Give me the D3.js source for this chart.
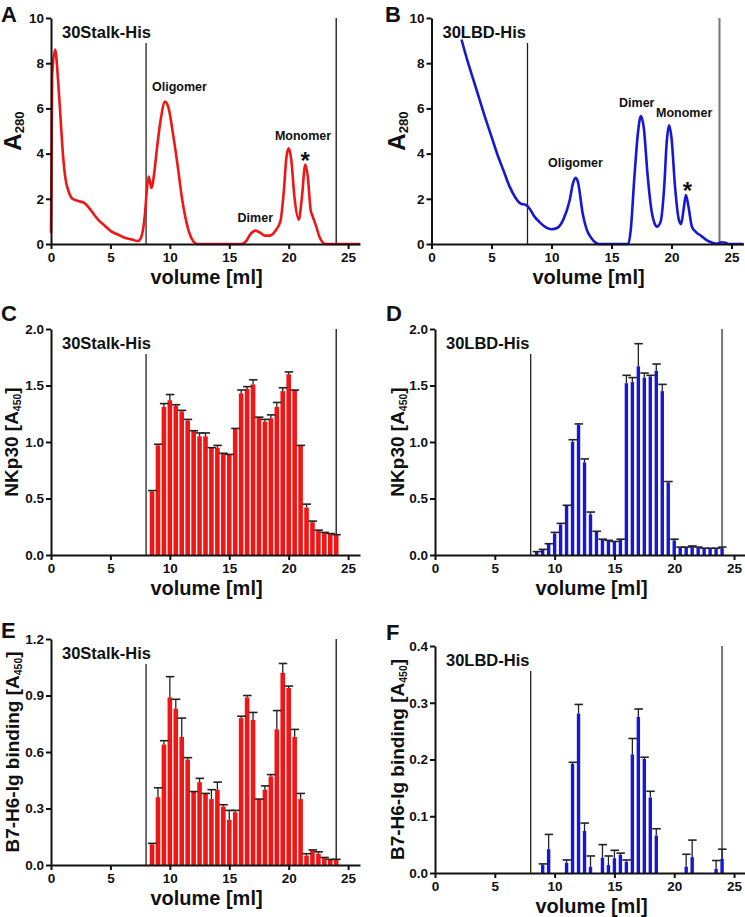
<!DOCTYPE html>
<html>
<head>
<meta charset="utf-8">
<script src="https://cdn.jsdelivr.net/npm/d3@7"></script>
<style>
  body { margin: 0; background: #fff; }
  svg { display: block; font-family: Arial, "Liberation Sans", Helvetica, sans-serif; font-weight: bold; }
</style>
</head>
<body>
<svg width="745" height="917"></svg>
<script>
// SEC traces, A280
var stalkVol = [0.0, 0.1, 0.35, 0.6, 0.8, 1.0, 1.2, 1.5, 1.8, 2.3, 2.8, 3.2, 3.6, 4.0, 4.5, 5.1, 5.7, 6.2, 6.8, 7.3, 7.55, 7.9, 8.05, 8.22, 8.45, 8.7, 8.9, 9.2, 9.6, 9.9, 10.3, 10.7, 11.0, 11.3, 11.6, 12.0, 12.3, 16.0, 16.4, 16.8, 17.2, 17.6, 18.0, 18.4, 18.9, 19.3, 19.6, 19.8, 20.0, 20.2, 20.5, 20.85, 21.1, 21.4, 21.6, 21.85, 22.0, 22.3, 22.6, 22.9, 23.1, 26.0];
var stalkAbs = [0.5, 7.5, 8.6, 7.2, 5.6, 4.0, 2.95, 2.3, 2.0, 1.9, 1.82, 1.6, 1.32, 1.06, 0.82, 0.55, 0.4, 0.28, 0.2, 0.13, 0.25, 1.3, 2.3, 2.98, 2.48, 3.2, 4.16, 5.4, 6.3, 6.0, 4.75, 3.3, 2.1, 1.2, 0.55, 0.1, 0.0, 0.0, 0.12, 0.45, 0.59, 0.5, 0.37, 0.37, 0.6, 1.0, 2.4, 3.8, 4.23, 3.8, 2.0, 1.08, 2.0, 3.52, 3.0, 1.5, 1.25, 0.8, 0.3, 0.05, 0.0, 0.0];

var lbdVol = [2.5, 3.0, 3.5, 4.0, 4.5, 5.0, 5.5, 6.0, 6.5, 7.0, 7.4, 7.9, 8.2, 8.6, 9.0, 9.5, 10.0, 10.5, 11.0, 11.5, 11.8, 12.0, 12.2, 12.6, 13.0, 13.3, 13.7, 14.0, 16.4, 16.6, 16.9, 17.2, 17.45, 17.7, 18.0, 18.3, 18.6, 18.8, 19.1, 19.4, 19.6, 19.8, 20.0, 20.3, 20.6, 20.8, 21.0, 21.2, 21.4, 21.7, 22.0, 22.5, 23.0, 23.4, 23.8, 24.2, 24.5, 24.8, 26.0];
var lbdAbs = [9.05, 8.1, 7.25, 6.4, 5.55, 4.75, 3.95, 3.25, 2.55, 2.05, 1.8, 1.72, 1.55, 1.2, 0.97, 0.75, 0.65, 0.72, 1.1, 1.9, 2.7, 2.93, 2.75, 1.35, 0.55, 0.28, 0.05, 0.0, 0.0, 0.6, 2.9, 4.9, 5.66, 5.1, 3.1, 1.6, 0.9, 0.77, 1.0, 2.6, 4.5, 5.25, 4.7, 2.5, 1.1, 0.88, 1.5, 2.17, 1.7, 0.77, 0.55, 0.35, 0.15, 0.06, 0.02, 0.08, 0.05, 0.0, 0.0];

// ELISA of the collected fractions
var fractions = [8.5, 9.0, 9.5, 10.0, 10.5, 11.0, 11.5, 12.0, 12.5, 13.0, 13.5, 14.0, 14.5, 15.0, 15.5, 16.0, 16.5, 17.0, 17.5, 18.0, 18.5, 19.0, 19.5, 20.0, 20.5, 21.0, 21.5, 22.0, 22.5, 23.0, 23.5, 24.0];

var stalkNkp30 = [0.56, 0.97, 1.31, 1.37, 1.32, 1.27, 1.19, 1.10, 1.05, 1.05, 0.95, 0.95, 0.90, 0.89, 1.12, 1.43, 1.47, 1.51, 1.22, 1.18, 1.21, 1.31, 1.45, 1.60, 1.46, 0.97, 0.42, 0.29, 0.22, 0.20, 0.19, 0.18];
var stalkNkp30Err = [0.57, 0.98, 1.34, 1.42, 1.33, 1.28, 1.20, 1.10, 1.08, 1.08, 0.95, 0.97, 0.90, 0.89, 1.12, 1.46, 1.49, 1.55, 1.22, 1.20, 1.24, 1.35, 1.48, 1.62, 1.46, 0.97, 0.45, 0.30, 0.22, 0.20, 0.19, 0.18];

var lbdNkp30 = [0.03, 0.05, 0.10, 0.19, 0.27, 0.44, 1.00, 1.15, 0.82, 0.36, 0.21, 0.14, 0.13, 0.12, 0.14, 1.52, 1.53, 1.67, 1.57, 1.58, 1.63, 1.45, 0.64, 0.13, 0.07, 0.07, 0.08, 0.07, 0.06, 0.06, 0.06, 0.06];
var lbdNkp30Err = [0.03, 0.05, 0.10, 0.20, 0.28, 0.44, 1.02, 1.16, 0.85, 0.38, 0.21, 0.14, 0.13, 0.12, 0.14, 1.59, 1.57, 1.87, 1.61, 1.59, 1.69, 1.51, 0.65, 0.14, 0.07, 0.07, 0.08, 0.07, 0.06, 0.06, 0.06, 0.07];

var stalkB7h6 = [0.11, 0.36, 0.64, 0.89, 0.83, 0.68, 0.56, 0.39, 0.44, 0.38, 0.35, 0.40, 0.31, 0.24, 0.28, 0.78, 0.89, 0.77, 0.35, 0.40, 0.47, 0.72, 1.02, 0.94, 0.68, 0.35, 0.05, 0.08, 0.06, 0.04, 0.03, 0.03];
var stalkB7h6Err = [0.115, 0.41, 0.66, 1.00, 0.88, 0.78, 0.57, 0.39, 0.46, 0.38, 0.40, 0.44, 0.32, 0.29, 0.29, 0.79, 0.90, 0.81, 0.35, 0.42, 0.48, 0.82, 1.07, 0.95, 0.72, 0.38, 0.06, 0.08, 0.07, 0.04, 0.03, 0.03];

var lbdB7h6 = [null, 0.014, 0.042, null, null, 0.018, 0.192, 0.281, 0.074, 0.011, null, 0.027, 0.014, 0.026, 0.032, 0.020, 0.209, 0.275, 0.201, 0.133, 0.066, null, null, null, null, 0.011, 0.028, null, null, null, 0.007, 0.025];
var lbdB7h6Err = [null, 0.016, 0.068, null, null, 0.023, 0.195, 0.297, 0.088, 0.030, null, 0.050, 0.030, 0.040, 0.035, 0.023, 0.237, 0.289, 0.204, 0.144, 0.078, null, null, null, null, 0.033, 0.058, null, null, null, 0.022, 0.042];

var xTicks = [0, 5, 10, 15, 20, 25];
var a280Ticks = [0, 2, 4, 6, 8, 10];
var nkp30Ticks = [0, 0.5, 1.0, 1.5, 2.0];
var stalkB7h6Ticks = [0, 0.3, 0.6, 0.9, 1.2];
var lbdB7h6Ticks = [0, 0.1, 0.2, 0.3, 0.4];
var cutoffs = [8, 24];

var svg = d3.select('svg');
var red = '#f01616';
var blue = '#1717d4';

function panel(o) {
  var x = d3.scaleLinear().domain([0, 26]).range([o.left, o.right]);
  var y = d3.scaleLinear().domain([0, o.ymax]).range([o.bottom, o.top]);
  var g = svg.append('g');

  // fraction window lines
  g.append('line')
    .attr('x1', x(cutoffs[0])).attr('x2', x(cutoffs[0]))
    .attr('y1', o.top + 25).attr('y2', o.bottom)
    .attr('stroke', '#222').attr('stroke-width', 1.3);
  g.append('line')
    .attr('x1', x(cutoffs[1])).attr('x2', x(cutoffs[1]))
    .attr('y1', o.top).attr('y2', o.bottom)
    .attr('stroke', o.color == blue ? '#777' : '#333').attr('stroke-width', o.color == blue ? 2 : 1.5);

  if (o.vol) {
    var pts = o.vol.map(function(v, i) { return [v, o.abs[i]]; });
    var line = d3.line()
      .x(function(d) { return x(d[0]); })
      .y(function(d) { return y(d[1]); })
      .curve(d3.curveMonotoneX);
    g.append('path').datum(pts)
      .attr('d', line)
      .attr('fill', 'none')
      .attr('stroke', o.color)
      .attr('stroke-width', 2.6)
      .attr('stroke-linejoin', 'round');
  }

  if (o.bars) {
    var bw = o.barWidth;
    var rows = fractions.map(function(f, i) { return { f: f, v: o.bars[i], e: o.err[i] }; })
      .filter(function(d) { return d.v != null; });
    g.selectAll('rect.bar').data(rows).enter().append('rect')
      .attr('x', function(d) { return x(d.f) - bw / 2; })
      .attr('y', function(d) { return y(d.v); })
      .attr('width', bw)
      .attr('height', function(d) { return y(0) - y(d.v); })
      .attr('fill', o.color);
    // upper error bars only
    g.selectAll('line.whisk').data(rows).enter().append('line')
      .attr('x1', function(d) { return x(d.f); })
      .attr('x2', function(d) { return x(d.f); })
      .attr('y1', function(d) { return y(d.v); })
      .attr('y2', function(d) { return y(d.e); })
      .attr('stroke', '#222').attr('stroke-width', 1.3);
    g.selectAll('line.cap').data(rows).enter().append('line')
      .attr('x1', function(d) { return x(d.f) - 4; })
      .attr('x2', function(d) { return x(d.f) + 4.5; })
      .attr('y1', function(d) { return y(d.e); })
      .attr('y2', function(d) { return y(d.e); })
      .attr('stroke', '#222').attr('stroke-width', 1.6);
  }

  // axes
  var xa = g.append('g').attr('transform', 'translate(0,' + o.bottom + ')')
    .call(d3.axisBottom(x).tickValues(xTicks).tickSize(5).tickPadding(3).tickSizeOuter(0));
  var ya = g.append('g').attr('transform', 'translate(' + o.left + ',0)')
    .call(d3.axisLeft(y).tickValues(o.yTicks).tickFormat(o.fmt).tickSize(5).tickPadding(2).tickSizeOuter(0));
  [xa, ya].forEach(function(a) {
    a.attr('font-family', null).attr('font-size', null);
    a.selectAll('path, line').attr('stroke', '#111').attr('stroke-width', 2);
    a.selectAll('text').attr('fill', '#111').style('font-size', '13.5px');
  });

  // x title
  g.append('text')
    .attr('x', (o.left + x(26)) / 2 + 1).attr('y', o.bottom + 40)
    .attr('text-anchor', 'middle')
    .style('font-size', '20px').attr('fill', '#111')
    .text('volume [ml]');

  // y title with subscript
  var yt = g.append('text')
    .attr('transform', 'translate(' + (o.left - o.ytOff) + ',' + ((o.top + o.bottom) / 2) + ') rotate(-90)')
    .attr('text-anchor', 'middle')
    .style('font-size', o.ytSize + 'px').attr('fill', '#111');
  yt.append('tspan').text(o.ytPre);
  yt.append('tspan').attr('dy', 3).style('font-size', (o.ytSize * 0.55) + 'px').text(o.ytSub);
  yt.append('tspan').attr('dy', -3).text(o.ytPost);

  // panel letter
  g.append('text')
    .attr('x', o.letterX).attr('y', o.letterY)
    .style('font-size', '22px').attr('fill', '#111')
    .text(o.letter);

  // construct name
  g.append('text')
    .attr('x', o.left + 11).attr('y', o.top + 20)
    .style('font-size', '16.5px').attr('fill', '#111')
    .text(o.name);

  (o.notes || []).forEach(function(n) {
    var t = g.append('text')
      .attr('x', x(n.x)).attr('y', y(n.y))
      .attr('fill', '#111')
      .text(n.t);
    if (n.t == '*') {
      t.attr('text-anchor', 'middle').attr('dy', '0.62em').style('font-size', '24px');
    } else {
      t.style('font-size', '12.5px');
    }
  });
}

var fmt1 = d3.format('.1f');

panel({ letter: 'A', letterX: 1, letterY: 22, name: '30Stalk-His', color: red,
  left: 51, right: 360, top: 18, bottom: 244, ymax: 10, yTicks: a280Ticks, fmt: d3.format('d'),
  ytPre: 'A', ytSub: '280', ytPost: '', ytSize: 24, ytOff: 30,
  vol: stalkVol, abs: stalkAbs,
  notes: [{ x: 8.5, y: 6.77, t: 'Oligomer' }, { x: 15.7, y: 0.99, t: 'Dimer' },
          { x: 18.84, y: 4.6, t: 'Monomer' }, { x: 21.39, y: 3.98, t: '*' }] });

panel({ letter: 'B', letterX: 385, letterY: 22, name: '30LBD-His', color: blue,
  left: 431.5, right: 743.5, top: 18, bottom: 244, ymax: 10, yTicks: a280Ticks, fmt: d3.format('d'),
  ytPre: 'A', ytSub: '280', ytPost: '', ytSize: 24, ytOff: 27,
  vol: lbdVol, abs: lbdAbs,
  notes: [{ x: 9.71, y: 3.42, t: 'Oligomer' }, { x: 15.63, y: 6.05, t: 'Dimer' },
          { x: 18.71, y: 5.6, t: 'Monomer' }, { x: 21.33, y: 2.65, t: '*' }] });

panel({ letter: 'C', letterX: 1, letterY: 321, name: '30Stalk-His', color: red,
  left: 51, right: 360, top: 329, bottom: 555, ymax: 2, yTicks: nkp30Ticks, fmt: fmt1,
  ytPre: 'NKp30 [A', ytSub: '450', ytPost: ']', ytSize: 19, ytOff: 33,
  bars: stalkNkp30, err: stalkNkp30Err, barWidth: 4.6 });

panel({ letter: 'D', letterX: 386, letterY: 321, name: '30LBD-His', color: blue,
  left: 435, right: 746, top: 329, bottom: 555, ymax: 2, yTicks: nkp30Ticks, fmt: fmt1,
  ytPre: 'NKp30 [A', ytSub: '450', ytPost: ']', ytSize: 19, ytOff: 31,
  bars: lbdNkp30, err: lbdNkp30Err, barWidth: 3.4 });

panel({ letter: 'E', letterX: 1, letterY: 638, name: '30Stalk-His', color: red,
  left: 51, right: 360, top: 639, bottom: 865, ymax: 1.2, yTicks: stalkB7h6Ticks, fmt: fmt1,
  ytPre: 'B7-H6-Ig binding [A', ytSub: '450', ytPost: ']', ytSize: 19, ytOff: 32,
  bars: stalkB7h6, err: stalkB7h6Err, barWidth: 4.6 });

panel({ letter: 'F', letterX: 386, letterY: 640, name: '30LBD-His', color: blue,
  left: 435, right: 746, top: 646, bottom: 873, ymax: 0.4, yTicks: lbdB7h6Ticks, fmt: fmt1,
  ytPre: 'B7-H6-Ig binding [A', ytSub: '450', ytPost: ']', ytSize: 19, ytOff: 31,
  bars: lbdB7h6, err: lbdB7h6Err, barWidth: 3.4 });
</script>
</body>
</html>
